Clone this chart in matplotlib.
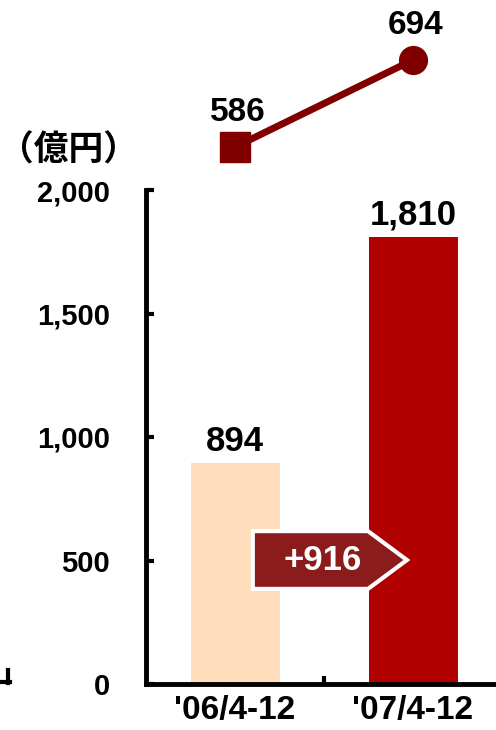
# 売上高推移（棒）と利益推移（折れ線）

import matplotlib.pyplot as plt
from matplotlib.patches import Polygon
from matplotlib.lines import Line2D

plt.rcParams['font.family'] = ['Liberation Sans', 'DejaVu Sans']
plt.rcParams['font.weight'] = 'bold'

periods = ["'06/4-12", "'07/4-12"]
sales = [894, 1810]
profit = [586, 694]
y_ticks = [0, 500, 1000, 1500, 2000]
y_tick_labels = ['0', '500', '1,000', '1,500', '2,000']
bar_colors = ['#FFDDBA', '#B00000']
line_color = '#800000'

fig = plt.figure(figsize=(4.96, 7.30), dpi=100)

# 棒グラフ
ax = fig.add_axes([146 / 496, 46 / 730, 356 / 496, 494 / 730])
x = list(range(len(periods)))
ax.bar(x, sales, width=0.5, color=bar_colors, zorder=2)
for xi, v in zip(x, sales):
    ax.annotate(f'{v:,}', (xi, v), xytext=(0, 4), textcoords='offset points',
                ha='center', va='bottom', fontsize=25, fontweight='bold')

ax.set_xlim(-0.5, 1.5)
ax.set_ylim(0, 2000)
ax.set_yticks(y_ticks)
ax.set_yticklabels(y_tick_labels)
ax.set_xticks([0.5])
ax.set_xticklabels([''])
ax.set_xticks(x, minor=True)
ax.set_xticklabels(periods, minor=True)
ax.tick_params(axis='y', direction='in', length=6, width=3, pad=26, labelsize=21)
ax.tick_params(axis='x', which='major', direction='in', length=6, width=3)
ax.tick_params(axis='x', which='minor', length=0, pad=8, labelsize=24)
for s in ['top', 'right']:
    ax.spines[s].set_visible(False)
for s in ['left', 'bottom']:
    ax.spines[s].set_linewidth(3.5)
ax.patch.set_visible(False)

# 増加額の矢印
arrow = Polygon([(0.10, 385), (0.10, 619), (0.747, 619), (0.966, 502), (0.747, 385)],
                closed=True, facecolor='#8C1B1B', edgecolor='white', linewidth=3,
                zorder=3, clip_on=False)
ax.add_patch(arrow)
ax.text(0.49, 502, '+%d' % (sales[1] - sales[0]), color='white', fontsize=25,
        fontweight='bold', ha='center', va='center', zorder=4)

# 折れ線（上段）
ax2 = fig.add_axes([146 / 496, 560 / 730, 356 / 496, 150 / 730])
ax2.plot(x, profit, color=line_color, linewidth=5, zorder=2)
ax2.plot(x[0], profit[0], marker='s', markersize=21, color=line_color, zorder=3)
ax2.plot(x[1], profit[1], marker='o', markersize=20, color=line_color, zorder=3)
for xi, v in zip(x, profit):
    ax2.annotate(f'{v}', (xi, v), xytext=(2, 25), textcoords='offset points',
                 ha='center', va='center', fontsize=24, fontweight='bold')
ax2.set_xlim(-0.5, 1.5)
ax2.set_ylim(557.5, 743.6)
ax2.axis('off')

fig.text(68 / 496, 1 - 150 / 730, '（億円）', fontsize=25, fontweight='bold',
         ha='center', va='center', family=['Noto Sans CJK JP', 'DejaVu Sans'])

# 左下の小さな線
fig.add_artist(Line2D([8 / 496, 8 / 496], [1 - 670 / 730, 1 - 683 / 730],
                      color='black', linewidth=3))
fig.add_artist(Line2D([0, 9.5 / 496], [1 - 682 / 730, 1 - 682 / 730],
                      color='black', linewidth=3))

fig.savefig('out.png', dpi=100)
